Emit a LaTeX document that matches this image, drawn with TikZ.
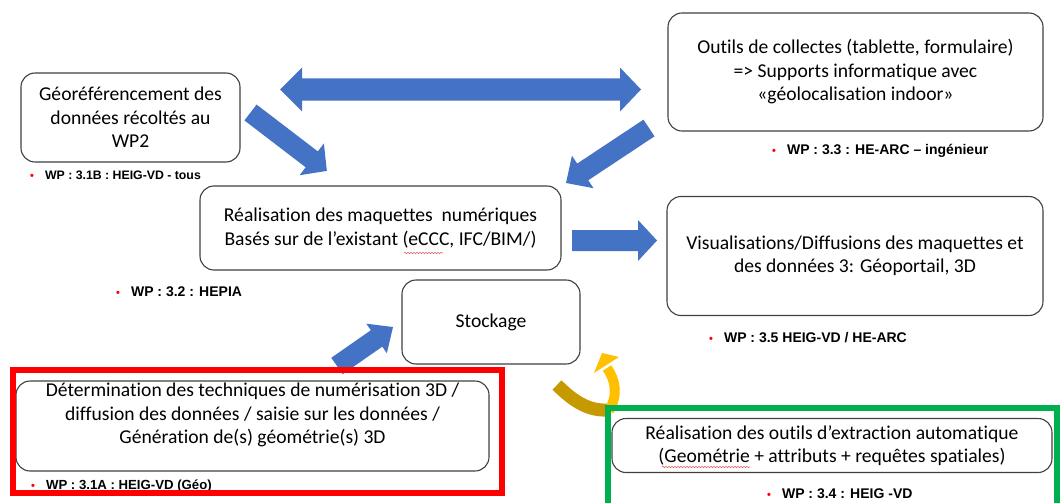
\documentclass[tikz,border=0pt]{standalone}
\usepackage{fontspec}
\usetikzlibrary{decorations.pathmorphing}
\setmainfont{Carlito}[Ligatures=NoCommon]
\newfontfamily\labelfont{Liberation Sans}

\definecolor{arrowblue}{HTML}{4472C4}
\definecolor{framered}{HTML}{FF0000}
\definecolor{framegreen}{HTML}{00B050}
\definecolor{curveyellow}{HTML}{FFC000}
\definecolor{curvegold}{HTML}{C49A00}
\definecolor{boxline}{HTML}{404040}
\definecolor{spellred}{HTML}{E06060}

% Straight block arrow: tail (x,y), tip (x,y), shaft half width, head half width, head length
\newcommand\bluearrow[7]{%
  \pgfmathsetmacro\bdx{#3-#1}%
  \pgfmathsetmacro\bdy{#4-#2}%
  \pgfmathsetmacro\bang{atan2(-\bdy,\bdx)}%
  \pgfmathsetmacro\blen{veclen(\bdx,\bdy)}%
  \pgfmathsetmacro\bneck{\blen-#7}%
  \fill[arrowblue,shift={(#1,#2)},rotate=\bang]
    (0,-#5) -- (\bneck,-#5) -- (\bneck,-#6) -- (\blen,0) -- (\bneck,#6)
    -- (\bneck,#5) -- (0,#5) -- cycle;%
}

\tikzset{
  box/.style={draw=boxline, line width=1.1pt, rounded corners=14pt, fill=white,
    align=center, inner sep=0pt, font=\fontsize{19.6}{23.5}\selectfont},
  boxtext/.style={align=center, inner sep=0pt, font=\fontsize{19.6}{23.5}\selectfont},
  wplabel/.style={anchor=west, inner sep=0pt,
    font=\labelfont\bfseries\fontsize{14}{16}\selectfont},
  frameline/.style={line width=6pt},
  spellwave/.style={spellred, line width=0.6pt,
    decorate, decoration={snake, segment length=3pt, amplitude=0.7pt}},
}
\newcommand\wplab[1]{{\fontsize{11}{11}\selectfont\textcolor{framered}{\textbullet}}\hspace{11pt}#1}

\begin{document}
\begin{tikzpicture}[x=1pt,y=-1pt]
\useasboundingbox (0,0) rectangle (1060,503);

% block arrows
\fill[arrowblue] (280,89.5) -- (302,67.5) -- (302,78.5) -- (620,78.5) -- (620,67.5)
  -- (641,89.5) -- (620,111.5) -- (620,100.5) -- (302,100.5) -- (302,111.5) -- cycle;
\bluearrow{250.5}{112.5}{327}{171}{10}{20}{19}
\bluearrow{649}{128}{566}{183}{10}{19.5}{20}
\bluearrow{572}{240.5}{657}{240.5}{10.5}{20.5}{19}
\bluearrow{337}{366}{393}{327}{10}{18}{20}

% curved arrow between extraction tools and storage
\draw[curvegold, line width=13pt] (557,385) .. controls (575,403) and (590,411) .. (608,410);
\draw[curveyellow, line width=10pt] (609,411) .. controls (618,395) and (616,381) .. (607,368);
\fill[curveyellow] (594,373) -- (602,353) -- (619,357) -- cycle;

% boxes
\node[box, minimum width=219pt, minimum height=89pt] (georef) at (130.5,117.5)
  {Géoréférencement des\\données récoltés au\\WP2};
\node[box, minimum width=375pt, minimum height=118pt] (outils) at (855.5,72)
  {Outils de collectes (tablette, formulaire)\\=> Supports informatique avec\\«géolocalisation indoor»};
\node[box, minimum width=361pt, minimum height=84pt] (maquettes) at (380.5,228)
  {Réalisation des maquettes~ numériques\\Basés sur de l’existant (eCCC, IFC/BIM/)};
\node[box, minimum width=376pt, minimum height=119pt] (visu) at (855,256)
  {Visualisations/Diffusions des maquettes et\\des données 3: Géoportail, 3D};
\node[box, minimum width=178pt, minimum height=84pt] (stockage) at (491,322) {Stockage};
\node[box, minimum width=473pt, minimum height=90pt] (determination) at (252.5,426) {};
\node[boxtext] (determinationtext) at (252.5,415)
  {Détermination des techniques de numérisation 3D /\\diffusion des données / saisie sur les données /\\Génération de(s) géométrie(s) 3D};
\node[box, minimum width=440pt, minimum height=54pt] (extraction) at (832,445.5)
  {Réalisation des outils d’extraction automatique\\(Geométrie + attributs + requêtes spatiales)};

% spell-check marks
\draw[spellwave] (404,253) -- (443,253);
\draw[spellwave] (662,467) -- (750,467);

% work package labels
\node[wplabel, font=\labelfont\bfseries\fontsize{12.3}{14}\selectfont] (wp31b) at (30,175) {\wplab{WP : 3.1B : HEIG-VD - tous}};
\node[wplabel] (wp33) at (772,151) {\wplab{WP : 3.3 : HE-ARC – ingénieur}};
\node[wplabel] (wp32) at (116,292) {\wplab{WP : 3.2 : HEPIA}};
\node[wplabel] (wp35) at (709,338) {\wplab{WP : 3.5 HEIG-VD / HE-ARC}};
\node[wplabel, font=\labelfont\bfseries\fontsize{13.2}{15}\selectfont] (wp31a) at (31,486) {\wplab{WP : 3.1A : HEIG-VD (Géo)}};
\node[wplabel] (wp34) at (767,494) {\wplab{WP : 3.4 : HEIG -VD}};

% highlight frames
\draw[framered, frameline] (13,370) rectangle (502,493);
\draw[framegreen, frameline] (608,520) -- (608,408) -- (1057,408) -- (1057,520);
\end{tikzpicture}
\end{document}
